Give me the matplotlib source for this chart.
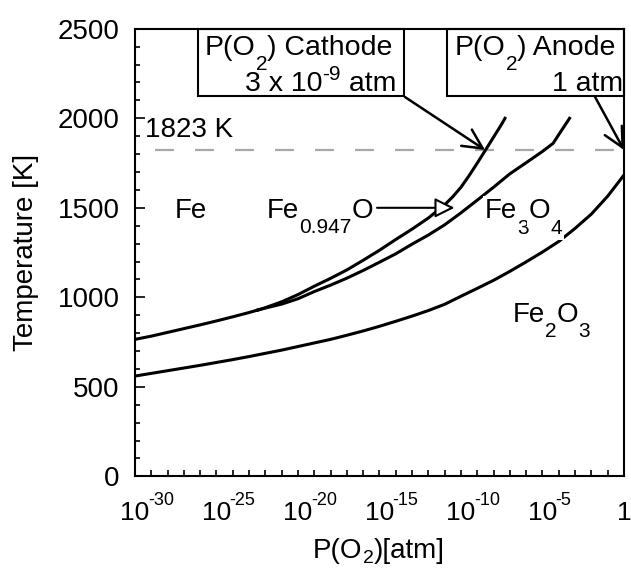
import numpy as np
import matplotlib
matplotlib.use('Agg')
import matplotlib.pyplot as plt
from matplotlib.patches import Rectangle
from matplotlib.transforms import IdentityTransform

plt.rcParams['font.family'] = 'Liberation Sans'

### lineas del diagrama: log10 P(O2) [atm] vs T [K]
## Fe / Fe3O4 (tramo unico por debajo del punto triple)
logp_fe_fe3o4 = [-30, -29, -28, -27, -26, -25, -24, -23, -22.5]
t_fe_fe3o4 = [765, 783, 804, 825, 846, 868, 891, 915, 928]
## Fe / Fe0.947O
logp_fe_feo = [-22.5, -22, -21, -20, -19, -18, -17, -16, -15, -14, -13, -12, -11,
               -10.5, -10, -9.5, -9, -8.5, -8, -7.5, -7.3]
t_fe_feo = [928, 942, 975, 1015, 1062, 1106, 1153, 1207, 1263, 1323, 1381, 1443, 1517,
            1562, 1615, 1680, 1750, 1822, 1895, 1968, 2000]
## Fe0.947O / Fe3O4
logp_feo_fe3o4 = [-22.5, -22, -21, -20, -19, -18, -17, -16, -15, -14, -13, -12, -11,
                  -10, -9, -8, -7, -6, -5, -4.35, -4, -3.34]
t_feo_fe3o4 = [928, 940, 962, 992, 1032, 1068, 1107, 1150, 1196, 1243, 1297, 1348, 1405,
               1472, 1543, 1615, 1690, 1752, 1815, 1860, 1909, 2000]
## Fe3O4 / Fe2O3
logp_fe3o4_fe2o3 = list(range(-30, 1))
t_fe3o4_fe2o3 = [560, 575, 590, 605, 620, 636, 652, 669, 687, 705, 725, 745, 765, 788, 812,
                 838, 866, 895, 926, 961, 1006, 1050, 1095, 1145, 1198, 1253, 1312, 1385,
                 1465, 1565, 1683]

t_acero = 1823      # K
p_catodo = 3e-9     # atm
p_anodo = 1.0       # atm
exponentes = [-30, -25, -20, -15, -10, -5]

W, H = 631, 569
fig = plt.figure(figsize=(W / 100, H / 100), dpi=100)
ax = fig.add_axes([0.2139, 0.1629, 0.775, 0.7865])
renderer = fig.canvas.get_renderer()


def formula(x, y, partes, fondo=False):
    ## escribe un texto por partes (subindices/superindices), x,y en pixeles desde arriba-izq
    px, py = x, H - y
    for texto, tam, dy in partes:
        kw = {}
        if fondo:
            kw['bbox'] = dict(fc='white', ec='none', pad=1.5)
        t = ax.text(px, py + dy, texto, fontsize=tam, ha='left', va='baseline',
                    transform=IdentityTransform(), zorder=3, **kw)
        px += t.get_window_extent(renderer).width


curvas = [(logp_fe_fe3o4, t_fe_fe3o4), (logp_fe_feo, t_fe_feo),
          (logp_feo_fe3o4, t_feo_fe3o4), (logp_fe3o4_fe2o3, t_fe3o4_fe2o3)]
for lp, t in curvas:
    ax.plot(10.0 ** np.array(lp), t, color='black', lw=2.2, solid_joinstyle='round', zorder=2)

ax.axhline(t_acero, xmin=0.041, xmax=1, color='#a8a8a8', lw=1.6, dashes=(8.5, 9.5), zorder=1)

ax.set_xscale('log')
ax.set_xlim(1e-30, 1)
ax.set_ylim(0, 2500)
ax.set_xticks([10.0 ** e for e in range(-30, 1)])
ax.xaxis.set_minor_locator(matplotlib.ticker.NullLocator())
ax.set_xticklabels([])
ax.set_yticks(range(0, 2501, 500))
ax.set_yticks(range(0, 2501, 100), minor=True)
ax.tick_params(axis='x', which='major', direction='in', length=4, width=1.2, top=False)
ax.tick_params(axis='y', which='major', direction='in', length=7, width=1.2, right=False,
               labelsize=20, pad=11)
ax.tick_params(axis='y', which='minor', direction='in', length=3.5, width=1.2, right=False)
for s in ax.spines.values():
    s.set_linewidth(1.5)

## etiquetas del eje x: "10" centrado en el tick y exponente aparte
for e in exponentes:
    ax.annotate('10', xy=(10.0 ** e, 0), xycoords=('data', 'axes fraction'), xytext=(0, -31.5),
                textcoords='offset points', ha='center', va='baseline', fontsize=19)
    ax.annotate('%d' % e, xy=(10.0 ** e, 0), xycoords=('data', 'axes fraction'), xytext=(9.4, -20.7),
                textcoords='offset points', ha='left', va='baseline', fontsize=13)
ax.annotate('1', xy=(1, 0), xycoords=('data', 'axes fraction'), xytext=(0, -31.5),
            textcoords='offset points', ha='center', va='baseline', fontsize=19)
formula(313, 558, [('P(O', 20, 0), ('2', 14, -5), (')[atm]', 20, 0)])

ax.set_ylabel('Temperature [K]', fontsize=20)
ax.yaxis.set_label_coords(-0.197, 0.5)

## fases
formula(175, 218, [('Fe', 20, 0)])
formula(267, 218, [('Fe', 20, 0), ('0.947', 15, -15), ('O', 20, 0)])
ax.annotate('', xy=(10 ** -10.4, 1500), xytext=(10 ** -15.15, 1500),
            arrowprops=dict(arrowstyle='-|>,head_length=0.6,head_width=0.3', fc='white', ec='black',
                            lw=1.5, mutation_scale=20, shrinkA=0, shrinkB=0))
formula(485, 218, [('Fe', 20, 0), ('3', 15, -16), ('O', 20, 0), ('4', 15, -16)], fondo=True)
formula(513, 322, [('Fe', 20, 0), ('2', 15, -15), ('O', 20, 0), ('3', 15, -15)])
formula(145, 137, [('1823 K', 20, 0)])

## cajas de P(O2)
ax.add_patch(Rectangle((10 ** -26.13, 2124), 10 ** -13.5 - 10 ** -26.13, 376, fill=False,
                       lw=1.5, clip_on=False, zorder=4))
formula(205, 55, [('P(O', 20.5, 0), ('2', 15, -15), (') Cathode', 20.5, 0)])
formula(245, 91, [('3 x 10', 20.5, 0), ('-9', 15, 11), (' atm', 20.5, 0)])
ax.add_patch(Rectangle((10 ** -10.86, 2124), 1 - 10 ** -10.86, 376, fill=False,
                       lw=1.5, clip_on=False, zorder=4))
formula(455, 55, [('P(O', 20.5, 0), ('2', 15, -15), (') Anode', 20.5, 0)])
formula(552, 91, [('1 atm', 20.5, 0)])

flecha = dict(arrowstyle='->,head_length=0.7,head_width=0.35', lw=1.8, mutation_scale=20,
              shrinkA=0, shrinkB=0, color='black')
ax.annotate('', xy=(p_catodo, t_acero), xytext=(10 ** -13.44, 2119), arrowprops=flecha)
ax.annotate('', xy=(p_anodo, t_acero), xytext=(10 ** -1.78, 2120), arrowprops=flecha,
            annotation_clip=False)

plt.savefig('out.png', dpi=100)
